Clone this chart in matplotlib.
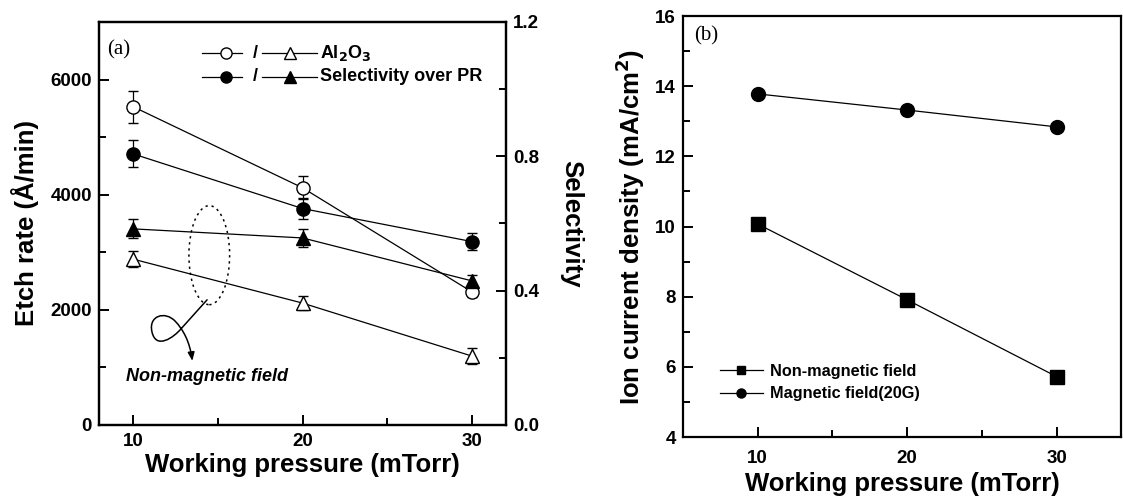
import matplotlib
matplotlib.use('Agg')
import matplotlib.pyplot as plt
from matplotlib.patches import Ellipse, FancyArrowPatch
from matplotlib.path import Path
from matplotlib.lines import Line2D
from matplotlib.ticker import MultipleLocator, FormatStrFormatter

plt.rcParams['font.family'] = ['Liberation Sans', 'DejaVu Sans']
plt.rcParams['font.weight'] = 'bold'

# data
pressure = [10, 20, 30]

# (a) etch rate (A/min), left axis
al2o3_rate = [5530, 4120, 2310]
al2o3_rate_err = [280, 200, 90]
pr_rate = [4710, 3760, 3185]
pr_rate_err = [235, 180, 150]

# (a) selectivity, right axis
sel_nonmag = [0.494, 0.363, 0.205]
sel_nonmag_err = [0.024, 0.02, 0.024]
sel_mag = [0.584, 0.557, 0.429]
sel_mag_err = [0.028, 0.028, 0.018]

# (b) ion current density (mA/cm2)
ion_nonmag = [10.07, 7.91, 5.72]
ion_mag = [13.78, 13.32, 12.84]

fig = plt.figure(figsize=(11.23, 5.01), dpi=100)
ax1 = fig.add_axes([0.0882, 0.1517, 0.3624, 0.8044])
ax2 = ax1.twinx()
axb = fig.add_axes([0.6082, 0.1277, 0.39, 0.8403])

ms = 9.5
lw = 0.9
tickfs = 13.5
labfs = 18.5


def style(ax):
    for s in ax.spines.values():
        s.set_linewidth(1.6)
    ax.tick_params(which='both', direction='in', width=1.4, labelsize=tickfs)
    ax.tick_params(which='major', length=7)
    ax.tick_params(which='minor', length=5)
    for lab in ax.get_xticklabels() + ax.get_yticklabels():
        lab.set_fontweight('bold')


# ---- panel (a)
eb = dict(capsize=3.6, elinewidth=0.9, capthick=0.9, lw=lw, color='black',
          markersize=ms, markeredgewidth=1.0, zorder=3)
ax1.errorbar(pressure, al2o3_rate, yerr=al2o3_rate_err, marker='o',
             markerfacecolor='white', **eb)
ax1.errorbar(pressure, pr_rate, yerr=pr_rate_err, marker='o',
             markerfacecolor='black', **eb)
ax2.errorbar(pressure, sel_nonmag, yerr=sel_nonmag_err, marker='^',
             markerfacecolor='white', **eb)
ax2.errorbar(pressure, sel_mag, yerr=sel_mag_err, marker='^',
             markerfacecolor='black', **eb)

ax1.set_xlim(8, 32)
ax1.set_ylim(0, 7000)
ax2.set_ylim(0, 1.2)
ax1.set_xticks([10, 20, 30])
ax1.xaxis.set_minor_locator(MultipleLocator(5))
ax1.set_yticks([0, 2000, 4000, 6000])
ax1.yaxis.set_minor_locator(MultipleLocator(1000))
ax2.set_yticks([0.0, 0.4, 0.8, 1.2])
ax2.yaxis.set_minor_locator(MultipleLocator(0.2))
ax2.yaxis.set_major_formatter(FormatStrFormatter('%.1f'))
style(ax1)
style(ax2)
ax1.tick_params(axis='x', pad=6)
ax1.tick_params(axis='y', pad=5)
ax2.tick_params(axis='y', pad=5)

ax1.set_xlabel('Working pressure (mTorr)', fontsize=labfs, fontweight='bold', labelpad=2)
ax1.set_ylabel('Etch rate (\u00c5/min)', fontsize=labfs, fontweight='bold', labelpad=8)
ax2.set_ylabel('Selectivity', fontsize=labfs, fontweight='bold', rotation=270,
               labelpad=32)

ax1.text(0.02, 0.955, '(a)', transform=ax1.transAxes, fontsize=15,
         family=['Liberation Serif', 'DejaVu Serif'], fontweight='normal',
         ha='left', va='top')

# hand-made legend in (a)
rows = [(0.923, 'white', 'Al$_\\mathbf{2}$O$_\\mathbf{3}$'),
        (0.864, 'black', 'Selectivity over PR')]
for yy, fc, txt in rows:
    ax1.add_line(Line2D([0.253, 0.351], [yy, yy], color='black', lw=lw,
                        transform=ax1.transAxes))
    ax1.add_line(Line2D([0.312], [yy], marker='o', markersize=8, color='black',
                        markerfacecolor=fc, transform=ax1.transAxes))
    ax1.text(0.383, yy, '/', transform=ax1.transAxes, fontsize=13,
             ha='center', va='center', fontweight='bold')
    ax1.add_line(Line2D([0.400, 0.536], [yy, yy], color='black', lw=lw,
                        transform=ax1.transAxes))
    ax1.add_line(Line2D([0.469], [yy], marker='^', markersize=8, color='black',
                        markerfacecolor=fc, transform=ax1.transAxes))
    ax1.text(0.543, yy, txt, transform=ax1.transAxes, fontsize=13,
             ha='left', va='center', fontweight='bold')

# dotted ellipse and curly arrow
ax1.add_patch(Ellipse((14.5, 2950), 2.4, 1720, fill=False, ls=(0, (1.5, 2.5)),
                      lw=1.1, color='black', zorder=2))
verts = [(14.37, 2174), (12.83, 1669),
         (12.4, 1520), (11.35, 1300), (11.12, 1620),
         (10.9, 1900), (11.9, 1990), (12.5, 1800),
         (12.95, 1660), (13.35, 1450), (13.5, 1113)]
codes = [Path.MOVETO, Path.LINETO,
         Path.CURVE4, Path.CURVE4, Path.CURVE4,
         Path.CURVE4, Path.CURVE4, Path.CURVE4,
         Path.CURVE4, Path.CURVE4, Path.CURVE4]
arrow = FancyArrowPatch(path=Path(verts, codes), arrowstyle='-|>,head_length=5,head_width=2',
                        lw=1.1, color='black', mutation_scale=1)
ax1.add_patch(arrow)
ax1.text(0.065, 0.12, 'Non-magnetic field', transform=ax1.transAxes,
         fontsize=13, fontstyle='italic', fontweight='bold', ha='left', va='center')

# ---- panel (b)
axb.plot(pressure, ion_nonmag, marker='s', color='black', lw=lw, markersize=ms,
         label='Non-magnetic field')
axb.plot(pressure, ion_mag, marker='o', color='black', lw=lw, markersize=ms + 0.5,
         label='Magnetic field(20G)')
axb.set_xlim(5, 34.3)
axb.set_ylim(4, 16)
axb.set_xticks([10, 20, 30])
axb.xaxis.set_minor_locator(MultipleLocator(5))
axb.set_yticks([4, 6, 8, 10, 12, 14, 16])
axb.yaxis.set_minor_locator(MultipleLocator(1))
style(axb)
axb.tick_params(axis='x', pad=9)
axb.tick_params(axis='y', pad=5)
axb.set_xlabel('Working pressure (mTorr)', fontsize=labfs, fontweight='bold', labelpad=4)
axb.set_ylabel('Ion current density (mA/cm$^\\mathbf{2}$)', fontsize=labfs,
               fontweight='bold', labelpad=6)
axb.text(0.025, 0.975, '(b)', transform=axb.transAxes, fontsize=15,
         family=['Liberation Serif', 'DejaVu Serif'], fontweight='normal',
         ha='left', va='top')
leg = axb.legend(loc='lower left', bbox_to_anchor=(0.05, 0.05), frameon=False,
                 markerscale=0.65, handlelength=2.7, handletextpad=0.4,
                 labelspacing=0.45, prop={'weight': 'bold', 'size': 11.7})

fig.savefig('out.png', dpi=100)
